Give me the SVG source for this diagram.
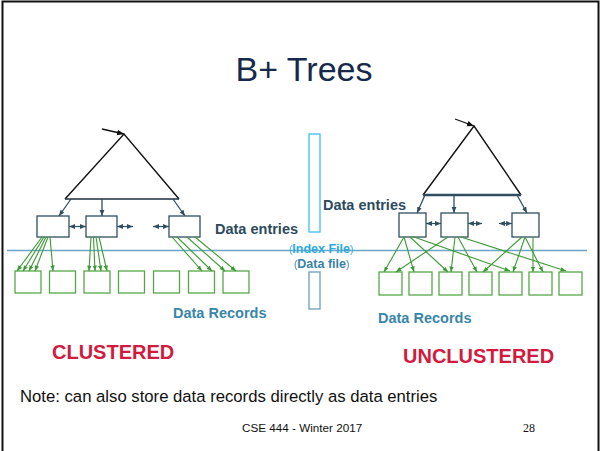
<svg xmlns="http://www.w3.org/2000/svg" width="602" height="451" viewBox="0 0 602 451">
  <style>
    .frame { fill: #ffffff; stroke: #111111; stroke-width: 2; }
    .tri { fill: none; stroke: #111111; stroke-width: 1.4; }
    .idx { fill: #ffffff; stroke: #2f4f5f; stroke-width: 1.3; }
    .rec { fill: #ffffff; stroke: #55a847; stroke-width: 1.3; }
    .ptr { fill: none; stroke: #2f4f5f; stroke-width: 1.3; marker-end: url(#ah-dark); }
    .sib { fill: none; stroke: #2f4f5f; stroke-width: 1.2; marker-start: url(#ah-dark); marker-end: url(#ah-dark); }
    .rid { fill: none; stroke: #3c9a34; stroke-width: 1.1; marker-end: url(#ah-green); }
    .root { fill: none; stroke: #111111; stroke-width: 1.3; marker-end: url(#ah-black); }
    .sans { font-family: "Liberation Sans", Arial, Helvetica, sans-serif; }
    .lbl { font-size: 14.5px; font-weight: bold; }
    .big { font-size: 20px; font-weight: bold; fill: #d21a3f; }
  </style>
  <defs>
    <marker id="ah-dark" viewBox="0 0 10 10" refX="10" refY="5" markerWidth="6" markerHeight="6" markerUnits="userSpaceOnUse" orient="auto-start-reverse">
      <path d="M0,1 L10,5 L0,9 z" fill="#2f4f5f"/>
    </marker>
    <marker id="ah-green" viewBox="0 0 10 10" refX="10" refY="5" markerWidth="5.5" markerHeight="5.5" markerUnits="userSpaceOnUse" orient="auto">
      <path d="M0,1 L10,5 L0,9 z" fill="#3c9a34"/>
    </marker>
    <marker id="ah-black" viewBox="0 0 10 10" refX="10" refY="5" markerWidth="7" markerHeight="7" markerUnits="userSpaceOnUse" orient="auto">
      <path d="M0,1 L10,5 L0,9 z" fill="#111111"/>
    </marker>
  </defs>

  <!-- slide frame -->
  <rect class="frame" x="2.5" y="1.5" width="596" height="460"/>

  <!-- title -->
  <text class="sans" x="304" y="81" font-size="34" fill="#17294a" text-anchor="middle">B+ Trees</text>

  <!-- boundary between index file and data file -->
  <line x1="7" y1="250.5" x2="587" y2="250.5" stroke="#6aa6c8" stroke-width="1.3"/>

  <!-- ===== clustered tree (left) ===== -->
  <g id="left-tree">
    <polyline class="tri" points="65,199 124,134 179,199"/>
    <line x1="65" y1="199" x2="179" y2="199" stroke="#1d2f40" stroke-width="1.5"/>
  </g>
  <g id="left-idx-1"><rect class="idx" x="37" y="216" width="32" height="21"/></g>
  <g id="left-idx-2"><rect class="idx" x="86" y="216" width="31" height="21"/></g>
  <g id="left-idx-3"><rect class="idx" x="169" y="216" width="31" height="21"/></g>
  <g id="left-rec-1"><rect class="rec" x="15" y="271" width="26" height="22"/></g>
  <g id="left-rec-2"><rect class="rec" x="49.5" y="271" width="26" height="22"/></g>
  <g id="left-rec-3"><rect class="rec" x="84" y="271" width="26" height="22"/></g>
  <g id="left-rec-4"><rect class="rec" x="118.5" y="271" width="26" height="22"/></g>
  <g id="left-rec-5"><rect class="rec" x="153.5" y="271" width="26" height="22"/></g>
  <g id="left-rec-6"><rect class="rec" x="188.5" y="271" width="26" height="22"/></g>
  <g id="left-rec-7"><rect class="rec" x="223" y="271" width="26" height="22"/></g>

  <!-- ===== unclustered tree (right) ===== -->
  <g id="right-tree">
    <polyline class="tri" points="423,195 474,126 521,195"/>
    <line x1="423" y1="195" x2="521" y2="195" stroke="#2f4f5f" stroke-width="2.4"/>
  </g>
  <g id="right-idx-1"><rect class="idx" x="399" y="213" width="27" height="24"/></g>
  <g id="right-idx-2"><rect class="idx" x="441" y="213" width="27" height="24"/></g>
  <g id="right-idx-3"><rect class="idx" x="512" y="213" width="27" height="24"/></g>
  <g id="right-rec-1"><rect class="rec" x="379" y="272" width="23" height="23"/></g>
  <g id="right-rec-2"><rect class="rec" x="409" y="272" width="23" height="23"/></g>
  <g id="right-rec-3"><rect class="rec" x="439" y="272" width="23" height="23"/></g>
  <g id="right-rec-4"><rect class="rec" x="469" y="272" width="23" height="23"/></g>
  <g id="right-rec-5"><rect class="rec" x="499" y="272" width="23" height="23"/></g>
  <g id="right-rec-6"><rect class="rec" x="529" y="272" width="23" height="23"/></g>
  <g id="right-rec-7"><rect class="rec" x="559" y="272" width="23" height="23"/></g>

  <!-- index file / data file bars -->
  <g id="index-file-bar"><rect x="309" y="134" width="11" height="98" fill="#ffffff" stroke="#3cc0ec" stroke-width="1.3"/></g>
  <g id="data-file-bar"><rect x="309" y="272" width="11" height="37" fill="#ffffff" stroke="#6a9fb8" stroke-width="1.3"/></g>

  <!-- ===== connectors ===== -->
  <g id="connectors">
    <!-- root pointers -->
    <line class="root" x1="102" y1="129" x2="124" y2="134"/>
    <line class="root" x1="455" y1="119" x2="474" y2="126"/>

    <!-- left: parent level to leaves -->
    <line class="ptr" x1="71" y1="199" x2="59" y2="216"/>
    <line class="ptr" x1="102" y1="199" x2="102" y2="216"/>
    <line class="ptr" x1="173" y1="199" x2="185" y2="216"/>
    <!-- left: leaf siblings -->
    <line class="sib" x1="69" y1="226.5" x2="86" y2="226.5"/>
    <line class="sib" x1="117" y1="226.5" x2="133" y2="226.5"/>
    <line class="sib" x1="153" y1="226.5" x2="169" y2="226.5"/>
    <!-- left: entries to records (clustered) -->
    <line class="rid" x1="42" y1="237" x2="17" y2="271"/>
    <line class="rid" x1="44" y1="237" x2="23" y2="271"/>
    <line class="rid" x1="46" y1="237" x2="29" y2="271"/>
    <line class="rid" x1="48" y1="237" x2="35" y2="271"/>
    <line class="rid" x1="50" y1="237" x2="53" y2="271"/>
    <line class="rid" x1="91" y1="237" x2="89" y2="271"/>
    <line class="rid" x1="93.5" y1="237" x2="95" y2="271"/>
    <line class="rid" x1="96" y1="237" x2="101" y2="271"/>
    <line class="rid" x1="99" y1="237" x2="107" y2="271"/>
    <line class="rid" x1="172" y1="237" x2="202" y2="271"/>
    <line class="rid" x1="177" y1="237" x2="212" y2="271"/>
    <line class="rid" x1="187" y1="237" x2="225" y2="271"/>
    <line class="rid" x1="195" y1="237" x2="236" y2="271"/>

    <!-- right: parent level to leaves -->
    <line class="ptr" x1="425" y1="195" x2="417" y2="213"/>
    <line class="ptr" x1="454" y1="195" x2="454" y2="213"/>
    <line class="ptr" x1="517" y1="195" x2="527" y2="213"/>
    <!-- right: leaf siblings -->
    <line class="sib" x1="426" y1="223.5" x2="441" y2="223.5"/>
    <line class="sib" x1="468" y1="223.5" x2="482" y2="223.5"/>
    <line class="sib" x1="499" y1="223.5" x2="512" y2="223.5"/>
    <!-- right: entries to records (unclustered) -->
    <line class="rid" x1="404" y1="237" x2="384" y2="272"/>
    <line class="rid" x1="404" y1="237" x2="414" y2="272"/>
    <line class="rid" x1="410" y1="237" x2="448" y2="272"/>
    <line class="rid" x1="414" y1="237" x2="510" y2="271"/>
    <line class="rid" x1="448" y1="237" x2="396" y2="272"/>
    <line class="rid" x1="455" y1="237" x2="451" y2="272"/>
    <line class="rid" x1="458" y1="237" x2="477" y2="272"/>
    <line class="rid" x1="461" y1="237" x2="566" y2="271"/>
    <line class="rid" x1="522" y1="237" x2="483" y2="272"/>
    <line class="rid" x1="525" y1="237" x2="513" y2="272"/>
    <line class="rid" x1="525" y1="237" x2="543" y2="272"/>
    <line class="rid" x1="533" y1="237" x2="533" y2="272"/>
  </g>

  <!-- labels -->
  <text class="sans lbl" x="215" y="234" fill="#2c4a5e">Data entries</text>
  <text class="sans lbl" x="323" y="210" fill="#2c4a5e">Data entries</text>
  <text class="sans lbl" x="173" y="318" fill="#3a86a8">Data Records</text>
  <text class="sans lbl" x="378" y="323" fill="#3a86a8">Data Records</text>
  <text class="sans" x="289" y="253" font-size="12.5" font-weight="bold" fill="#2ea9e0"><tspan font-size="10" font-weight="normal">(</tspan>Index File<tspan font-size="10" font-weight="normal">)</tspan></text>
  <text class="sans" x="294" y="268" font-size="12.5" font-weight="bold" fill="#3b82a6"><tspan font-size="10" font-weight="normal">(</tspan>Data file<tspan font-size="10" font-weight="normal">)</tspan></text>

  <text class="sans big" x="52" y="359">CLUSTERED</text>
  <text class="sans big" x="403" y="363">UNCLUSTERED</text>
  <text class="sans" x="20" y="402" font-size="16.7" fill="#111111">Note: can also store data records directly as data entries</text>
  <text class="sans" x="242" y="432" font-size="11.7" fill="#111111">CSE 444 - Winter 2017</text>
  <text x="523" y="432" font-family="'Liberation Serif', 'Times New Roman', serif" font-size="12" fill="#111111">28</text>
</svg>
